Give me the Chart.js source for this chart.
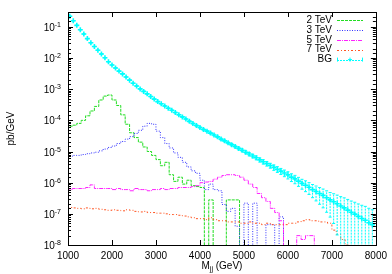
<!DOCTYPE html>
<html>
<head>
<meta charset="utf-8">
<script src="https://cdn.jsdelivr.net/npm/chart.js@4"></script>
<style>
  html, body { margin: 0; padding: 0; background: #fff; }
  #wrap { width: 392px; height: 274px; }
</style>
</head>
<body>
<div id="wrap"><canvas id="c" width="392" height="274"></canvas></div>
<script>
// bin left edges, GeV
let mass = [1000,1100,1200,1300,1400,1500,1600,1700,1800,1900,
            2000,2100,2200,2300,2400,2500,2600,2700,2800,2900,
            3000,3100,3200,3300,3400,3500,3600,3700,3800,3900,
            4000,4100,4200,4300,4400,4500,4600,4700,4800,4900,
            5000,5100,5200,5300,5400,5500,5600,5700,5800,5900,
            6000,6100,6200,6300,6400,6500,6600,6700,6800,6900,
            7000,7100,7200,7300,7400,7500,7600,7700,7800,7900];

// signal histograms, pb/GeV (0 = empty bin)
let sig2 = [5.5e-5,6.5e-5,7e-5,8e-5,1e-4,1.4e-4,2e-4,2.8e-4,4.5e-4,6e-4,
            6.5e-4,4.5e-4,3e-4,1.5e-4,7.5e-5,4e-5,2.8e-5,2e-5,1.4e-5,1e-5,
            7.5e-6,5.5e-6,3.5e-6,4.5e-6,1.8e-6,1.1e-6,1.5e-6,9e-7,1.2e-6,8e-7,
            7.5e-7,7e-7,0,2.8e-7,0,0,0,2.8e-7,2.8e-7,2.8e-7,
            0,0,0,0,0,0,0,0,0,0,
            0,0,0,0,0,0,0,0,0,0,
            0,0,0,0,0,0,0,0,0,0];
let sig3 = [6.5e-6,7e-6,7.5e-6,7.5e-6,8e-6,8.5e-6,9e-6,9.5e-6,1.05e-5,1.2e-5,
            1.35e-5,1.5e-5,1.8e-5,2.1e-5,2.5e-5,3e-5,3.8e-5,4.8e-5,6.5e-5,8e-5,
            7.5e-5,4.5e-5,2.8e-5,1.8e-5,1.3e-5,9e-6,6.5e-6,4.5e-6,3.2e-6,2.4e-6,
            2e-6,1.2e-6,6e-7,9e-7,6e-7,5.5e-7,2e-7,1.2e-7,1.5e-7,4e-8,
            0,2.2e-7,0,2.2e-7,0,0,4.5e-8,4.5e-8,0,8e-8,
            0,0,0,0,0,0,0,0,0,0,
            0,0,0,0,0,0,0,0,0,0];
let sig5 = [5e-7,6e-7,6.5e-7,6.5e-7,6.5e-7,7e-7,8.5e-7,6.5e-7,6.5e-7,6.5e-7,
            6.5e-7,6e-7,6.5e-7,6e-7,6e-7,5.5e-7,6.5e-7,6e-7,6e-7,5.5e-7,
            6e-7,6e-7,6.5e-7,6e-7,6.5e-7,6.5e-7,7e-7,7e-7,7e-7,7.5e-7,
            8e-7,1e-6,1.05e-6,1.1e-6,1.3e-6,1.5e-6,1.7e-6,1.8e-6,1.8e-6,1.7e-6,
            1.5e-6,1.2e-6,9e-7,7e-7,4.5e-7,3.3e-7,2.5e-7,1.5e-7,1.1e-7,6e-8,
            0,0,0,2e-8,1.5e-8,2e-8,2e-8,0,0,0,
            0,0,0,0,0,0,0,0,0,0];
let sig7 = [1.5e-7,1.6e-7,1.55e-7,1.5e-7,1.45e-7,1.55e-7,1.45e-7,1.5e-7,1.4e-7,1.35e-7,
            1.3e-7,1.35e-7,1.3e-7,1.25e-7,1.35e-7,1.3e-7,1.2e-7,1.15e-7,1.2e-7,1.1e-7,
            1.1e-7,1.05e-7,1.05e-7,1e-7,9.5e-8,9.5e-8,9e-8,8.5e-8,8e-8,7.5e-8,
            7e-8,7e-8,6.5e-8,7.5e-8,6.5e-8,6e-8,6e-8,5.5e-8,5.5e-8,5.5e-8,
            5e-8,5e-8,5.5e-8,5e-8,5e-8,4.5e-8,5e-8,4.5e-8,4.5e-8,4.5e-8,
            4.5e-8,5e-8,5e-8,5.5e-8,6e-8,6.5e-8,6e-8,6e-8,5.5e-8,5.5e-8,
            5e-8,3e-8,2.2e-8,1.5e-8,1e-8,0,0,0,0,0];

// background points
let bgMass = [1040,1120,1200,1280,1360,1440,1520,1600,1680,1760,
              1840,1920,2000,2080,2160,2240,2320,2400,2480,2560,
              2640,2720,2800,2880,2960,3040,3120,3200,3280,3360,
              3440,3520,3600,3680,3760,3840,3920,4000,4080,4160,
              4240,4320,4400,4480,4560,4640,4720,4800,4880,4960,
              5040,5120,5200,5280,5360,5440,5520,5600,5680,5760,
              5840,5920,6000,6080,6160,6240,6320,6400,6480,6560,
              6640,6720,6800,6880,6960,7040,7120,7200,7280,7360,
              7440,7520,7600,7680,7760,7840,7920];
let bgVal = [2.19e-1,1.58e-1,1.12e-1,8.1e-2,5.9e-2,4.2e-2,3.1e-2,2.34e-2,1.78e-2,1.35e-2,
             1.02e-2,7.6e-3,6.0e-3,4.8e-3,3.8e-3,3.1e-3,2.45e-3,1.95e-3,1.55e-3,1.26e-3,
             1.02e-3,8.5e-4,7.1e-4,5.8e-4,4.8e-4,4.0e-4,3.4e-4,2.9e-4,2.45e-4,2.1e-4,
             1.78e-4,1.51e-4,1.29e-4,1.10e-4,9.3e-5,7.9e-5,6.8e-5,5.9e-5,5.1e-5,4.5e-5,
             3.9e-5,3.4e-5,2.95e-5,2.5e-5,2.2e-5,1.9e-5,1.66e-5,1.45e-5,1.26e-5,1.10e-5,
             9.5e-6,8.3e-6,7.2e-6,6.3e-6,5.4e-6,4.7e-6,4.1e-6,3.55e-6,3.1e-6,2.7e-6,
             2.35e-6,2.05e-6,1.78e-6,1.51e-6,1.32e-6,1.12e-6,9.5e-7,8.3e-7,7.1e-7,6.0e-7,
             5.2e-7,4.5e-7,3.9e-7,3.3e-7,2.8e-7,2.45e-7,2.1e-7,1.78e-7,1.55e-7,1.32e-7,
             1.12e-7,9.8e-8,8.3e-8,7.1e-8,6.2e-8,5.2e-8,4.5e-8];
// relative error of background
let bgErr = [0.01,0.01,0.01,0.01,0.01,0.01,0.01,0.01,0.01,0.01,
             0.01,0.01,0.01,0.01,0.01,0.01,0.01,0.01,0.01,0.01,
             0.02,0.02,0.02,0.02,0.02,0.02,0.02,0.03,0.03,0.03,
             0.03,0.03,0.04,0.04,0.04,0.04,0.05,0.05,0.05,0.05,
             0.06,0.06,0.06,0.07,0.07,0.07,0.08,0.09,0.10,0.10,
             0.11,0.12,0.13,0.14,0.15,0.16,0.17,0.18,0.20,0.21,
             0.22,0.24,0.26,0.28,0.30,0.32,0.35,0.38,0.41,0.45,
             0.50,0.55,0.60,0.66,0.72,0.80,0.90,1.0,1.1,1.2,
             1.3,1.4,1.5,1.65,1.8,1.9,2.0];

let xTicks = [1000,2000,3000,4000,5000,6000,7000,8000];
let labels = ['2 TeV','3 TeV','5 TeV','7 TeV','BG'];
let colors = ['#22dd22','#3333ff','#ff22ff','#ff5522','#00ffff'];
let dashes = [[3,1],[1,1.5],[4,1,1,1],[2,2,1,2],[2,1]];

const FONT = 'Liberation Sans, Arial, sans-serif';

function hist(vals) {
    // log axis cannot show 0, push empty bins far below the frame
    return mass.map((m, i) => ({x: m, y: vals[i] > 0 ? vals[i] : 1e-12}));
}

let sigSets = [sig2, sig3, sig5, sig7].map((v, i) => ({
    label: labels[i],
    data: hist(v),
    stepped: 'after',
    borderColor: colors[i],
    borderWidth: 1,
    borderDash: dashes[i],
    pointRadius: 0,
    fill: false,
    order: 5 - i
}));

let errData = [];
for (let i=0; i<bgMass.length; i++){
    let v = bgVal[i], r = bgErr[i];
    let lo = r < 1 ? v*(1-r) : 1e-12;
    errData.push({x: bgMass[i], y: lo});
    errData.push({x: bgMass[i], y: v*(1+r)});
    errData.push({x: bgMass[i], y: null});
}

let datasets = sigSets.concat([
    {
        label: labels[4],
        data: bgMass.map((m, i) => ({x: m, y: bgVal[i]})),
        showLine: false,
        pointStyle: 'cross',
        pointRadius: 2.5,
        pointBorderWidth: 1.6,
        borderColor: colors[4],
        backgroundColor: colors[4],
        order: 0
    },
    {
        label: '',
        data: errData,
        spanGaps: false,
        borderColor: colors[4],
        borderWidth: 1,
        borderDash: dashes[4],
        pointStyle: 'line',
        pointRadius: 1.5,
        pointBorderWidth: 1,
        pointBorderColor: colors[4],
        order: 1
    }
]);

function setDash(ctx, d) { ctx.setLineDash(d || []); }

let frame = {
    id: 'frame',
    afterDatasetsDraw(chart) {
        let ctx = chart.ctx, a = chart.chartArea;
        let xs = chart.scales.x, ys = chart.scales.y;
        ctx.save();
        ctx.strokeStyle = '#000';
        ctx.lineWidth = 1;
        setDash(ctx, []);
        ctx.beginPath();
        ctx.fillStyle = '#000';
        // y ticks both sides, labels 10^n on decades
        ys.ticks.forEach(t => {
            let p = Math.round(ys.getPixelForValue(t.value)) + 0.5;
            let e = Math.log10(t.value);
            let major = Math.abs(e - Math.round(e)) < 1e-6;
            let len = major ? 5 : 3;
            ctx.moveTo(a.left, p); ctx.lineTo(a.left + len, p);
            ctx.moveTo(a.right, p); ctx.lineTo(a.right - len, p);
            if (major) {
                let ex = String(Math.round(e));
                ctx.textBaseline = 'alphabetic';
                ctx.textAlign = 'right';
                ctx.font = '7px ' + FONT;
                let we = ctx.measureText(ex).width;
                ctx.fillText(ex, 61, p - 1);
                ctx.font = '10px ' + FONT;
                ctx.fillText('10', 61 - we, p + 3.5);
            }
        });
        xTicks.forEach(v => {
            let p = Math.round(xs.getPixelForValue(v)) + 0.5;
            ctx.moveTo(p, a.bottom); ctx.lineTo(p, a.bottom - 5);
            ctx.moveTo(p, a.top); ctx.lineTo(p, a.top + 5);
        });
        ctx.stroke();
        ctx.strokeRect(Math.round(a.left) + 0.5, Math.round(a.top) + 0.5,
                       Math.round(a.right - a.left), Math.round(a.bottom - a.top));

        // axis titles
        ctx.textBaseline = 'alphabetic';
        let cx = (a.left + a.right) / 2, by = 269;
        ctx.font = '10px ' + FONT;
        let w1 = ctx.measureText('M').width, w3 = ctx.measureText(' (GeV)').width;
        ctx.font = '7px ' + FONT;
        let w2 = ctx.measureText('jj').width;
        let x0 = cx - (w1 + w2 + w3) / 2;
        ctx.font = '10px ' + FONT;
        ctx.textAlign = 'left';
        ctx.fillText('M', x0, by);
        ctx.font = '7px ' + FONT;
        ctx.fillText('jj', x0 + w1, by + 2);
        ctx.font = '10px ' + FONT;
        ctx.fillText(' (GeV)', x0 + w1 + w2, by);

        ctx.save();
        ctx.translate(14, (a.top + a.bottom) / 2);
        ctx.rotate(-Math.PI / 2);
        ctx.textAlign = 'center';
        ctx.fillText('pb/GeV', 0, 0);
        ctx.restore();

        // key
        ctx.font = '10px ' + FONT;
        ctx.textAlign = 'right';
        ctx.textBaseline = 'middle';
        for (let i=0; i<labels.length; i++){
            let y = 20 + i * 9.9;
            ctx.fillStyle = '#000';
            ctx.fillText(labels[i], 332, y);
            ctx.strokeStyle = colors[i];
            ctx.lineWidth = 1;
            setDash(ctx, dashes[i]);
            ctx.beginPath();
            ctx.moveTo(337, Math.round(y) + 0.5);
            ctx.lineTo(363, Math.round(y) + 0.5);
            ctx.stroke();
            if (i === 4) {
                setDash(ctx, []);
                ctx.beginPath();
                ctx.moveTo(337.5, y - 2); ctx.lineTo(337.5, y + 2);
                ctx.moveTo(362.5, y - 2); ctx.lineTo(362.5, y + 2);
                ctx.moveTo(350, y - 2); ctx.lineTo(350, y + 2);
                ctx.moveTo(348, y); ctx.lineTo(352, y);
                ctx.stroke();
            }
        }
        ctx.restore();
    }
};

new Chart(document.getElementById('c'), {
    type: 'line',
    data: { datasets: datasets },
    options: {
        responsive: false,
        animation: false,
        layout: { padding: { left: 0, right: 16, top: 12, bottom: 0 } },
        plugins: { legend: { display: false }, tooltip: { enabled: false } },
        scales: {
            x: {
                type: 'linear',
                min: 1000, max: 8000,
                offset: false,
                grid: { display: false, drawTicks: false },
                border: { display: false },
                afterFit: s => { s.height = 29; },
                afterBuildTicks: s => { s.ticks = xTicks.map(v => ({value: v})); },
                ticks: {
                    padding: 5,
                    color: '#000',
                    font: { family: FONT, size: 10 },
                    maxRotation: 0,
                    autoSkip: false,
                    callback: v => String(v)
                }
            },
            y: {
                type: 'logarithmic',
                min: 1e-8, max: 0.3,
                grid: { display: false, drawTicks: false },
                border: { display: false },
                afterFit: s => { s.width = 68; },
                ticks: {
                    display: false,
                    autoSkip: false
                }
            }
        }
    },
    plugins: [frame]
});
</script>
</body>
</html>
